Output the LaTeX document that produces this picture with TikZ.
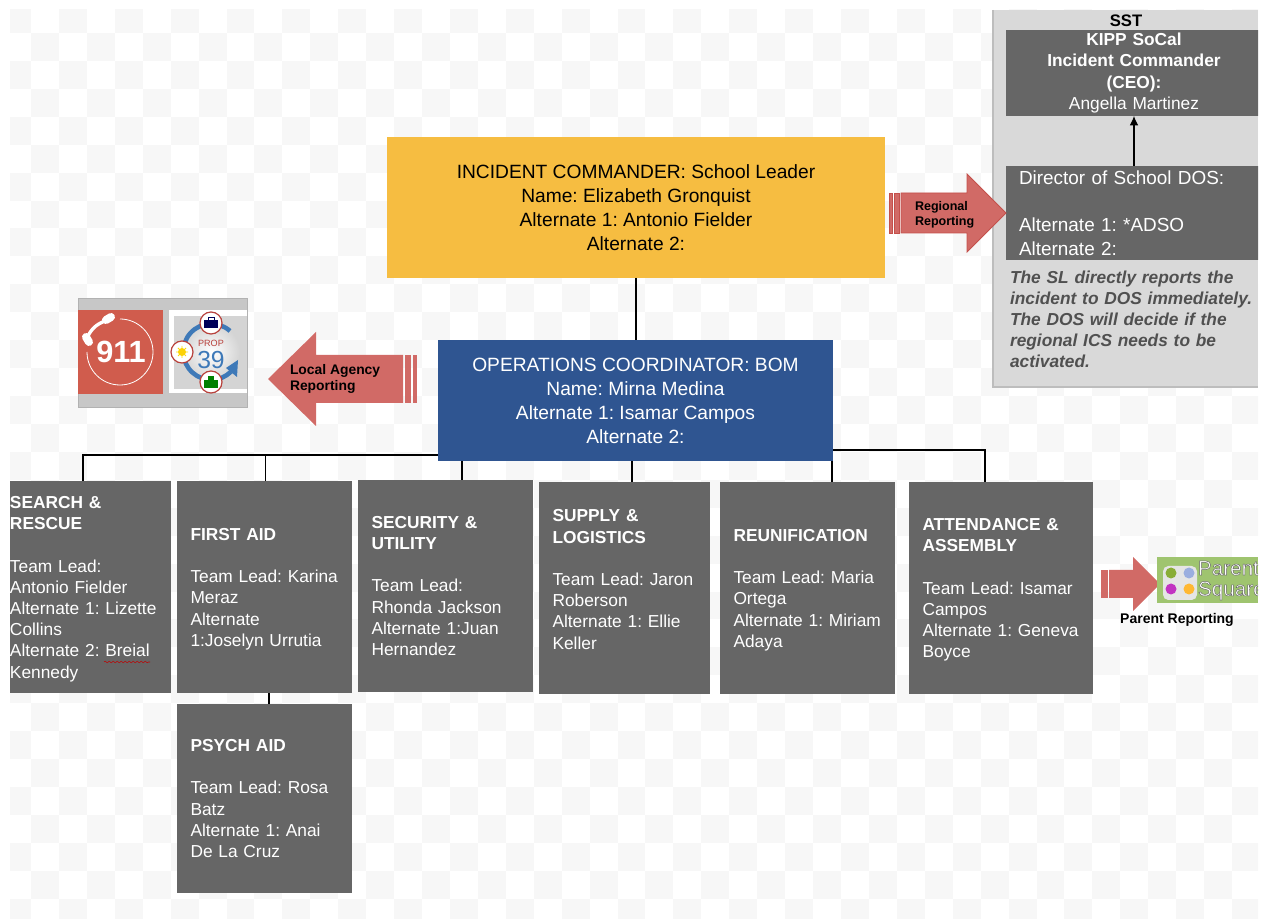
\documentclass[tikz,border=0pt]{standalone}
\usepackage{fontspec}
\setmainfont{Liberation Sans}
\usetikzlibrary{arrows.meta,decorations.pathmorphing}
\frenchspacing

\definecolor{boxgray}{HTML}{666666}
\definecolor{sstgray}{HTML}{D9D9D9}
\definecolor{sstedge}{HTML}{BDBDBD}
\definecolor{notegray}{HTML}{505050}
\definecolor{leaderyellow}{HTML}{F6BD41}
\definecolor{coordblue}{HTML}{2F5591}
\definecolor{arrowred}{HTML}{D16A66}
\definecolor{arrowedge}{HTML}{C4504B}
\definecolor{tilegray}{HTML}{F7F7F7}
\definecolor{callred}{HTML}{D05C4D}
\definecolor{propblue}{HTML}{3E79B8}
\definecolor{propred}{HTML}{B8413C}
\definecolor{parentgreen}{HTML}{9FC46F}

\tikzset{
	every node/.style = {inner sep = 0pt, outer sep = 0pt},
	sized/.style 2 args = {anchor = north west, minimum width = #1*0.75pt, minimum height = #2*0.75pt},
	teamfont/.style = {font = \fontsize{13}{15.9}\selectfont},
	lowered/.style = {execute at begin node = {\rule{0pt}{12.3pt}}},
	teambox/.style 2 args = {sized = {#1}{#2}, fill = boxgray, text = white, teamfont, align = left, text width = #1*0.75pt - 20.25pt},
	leadbox/.style 2 args = {sized = {#1}{#2}, font = \fontsize{14.4}{18}\selectfont, align = center},
	busline/.style = {line width = 2.2pt, black},
	thinbus/.style = {line width = 0.7pt, black},
	blockarrow/.style = {fill = arrowred, draw = arrowedge, line width = 0.6pt},
	arrowtext/.style 2 args = {anchor = west, align = left, font = \fontsize{#1}{#2}\selectfont\bfseries, text = black},
}

\begin{document}
\begin{tikzpicture}[x = 0.75pt, y = -0.75pt]
	\useasboundingbox (0,0) rectangle (1265,919);
	% backdrop tiles
	\begin{scope}
		\clip (10,10) rectangle (1258,919);
		\foreach \i in {0,...,45}
			\foreach \j in {0,...,33} {
				\pgfmathparse{int(mod(\i+\j,2))}
				\ifnum\pgfmathresult=0
					\fill[tilegray] ({3.1+27.93*\i},{5+27.93*\j}) rectangle ++(27.93,27.93);
				\fi
			}
	\end{scope}

	% SST panel
	\node[sized = {265}{377}, fill = sstgray] (sst) at (993,10) {};
	\draw[sstedge, line width = 0.9pt] (sst.north west) -- (sst.south west) -- (sst.south east);
	\node[font = \fontsize{12.5}{15}\selectfont\bfseries] (ssttitle) at (1126,20.5) {SST};
	\begin{scope}
		\clip (993,10) rectangle (1258,387);
		\node[sized = {256}{86}, fill = boxgray, text = white, align = center, font = \fontsize{13}{15.9}\selectfont, text width = 189pt] (kipp) at (1006,30) {\textbf{KIPP SoCal}\\\textbf{Incident Commander}\\\textbf{(CEO):}\\Angella Martinez};
		\node[sized = {256}{94}, fill = boxgray, text = white, align = left, font = \fontsize{14.2}{17.7}\selectfont, text width = 172.5pt] (dos) at (1006,166) {Director of School DOS:\\~\\Alternate 1: *ADSO\\Alternate 2:};
	\end{scope}
	\node[anchor = north west, align = left, text = notegray, text width = 190pt, font = \fontsize{13}{15.8}\selectfont\bfseries\itshape] (sstnote) at (1010,271) {The SL directly reports the\\incident to DOS immediately.\\The DOS will decide if the\\regional ICS needs to be\\activated.};
	\draw[-{Latex[length = 7pt, width = 6.5pt]}, line width = 0.8pt] (dos.north) -- (kipp.south);

	% command boxes
	\node[leadbox = {498}{141}, fill = leaderyellow] (commander) at (387,137) {INCIDENT COMMANDER: School Leader\\Name: Elizabeth Gronquist\\Alternate 1: Antonio Fielder\\Alternate 2:};
	\node[leadbox = {395}{121}, fill = coordblue, text = white] (operations) at (438,340) {OPERATIONS COORDINATOR: BOM\\Name: Mirna Medina\\Alternate 1: Isamar Campos\\Alternate 2:};

	% team boxes
	\node[sized = {161}{212}, fill = boxgray, text = white, teamfont, align = left, text width = 120.75pt, lowered] (search) at (10,481) {\textbf{SEARCH \&}\\\textbf{RESCUE}\\~\\Team Lead:\\Antonio Fielder\\Alternate 1: Lizette\\Collins\\Alternate 2: Breial\\Kennedy};
	\node[teambox = {175}{212}, lowered] (firstaid) at (177,481) {\textbf{FIRST AID}\\~\\Team Lead: Karina\\Meraz\\Alternate\\1:Joselyn Urrutia};
	\node[teambox = {175}{212}] (security) at (358,480) {\textbf{SECURITY \&}\\\textbf{UTILITY}\\~\\Team Lead:\\Rhonda Jackson\\Alternate 1:Juan\\Hernandez};
	\node[teambox = {171}{212}, lowered] (supply) at (539,482) {\textbf{SUPPLY \&}\\\textbf{LOGISTICS}\\~\\Team Lead: Jaron\\Roberson\\Alternate 1: Ellie\\Keller\\~};
	\node[teambox = {175}{212}, lowered] (reunion) at (720,482) {\textbf{REUNIFICATION}\\~\\Team Lead: Maria\\Ortega\\Alternate 1: Miriam\\Adaya};
	\node[teambox = {184}{212}, lowered] (attendance) at (909,482) {\textbf{ATTENDANCE \&}\\\textbf{ASSEMBLY}\\~\\Team Lead: Isamar\\Campos\\Alternate 1: Geneva\\Boyce};
	\node[teambox = {175}{189}] (psych) at (177,704) {\textbf{PSYCH AID}\\~\\Team Lead: Rosa\\Batz\\Alternate 1: Anai\\De La Cruz};
	\draw[red!75!black, line width = 0.4pt, decorate, decoration = {snake, amplitude = 0.6pt, segment length = 3pt}] (104,662) -- (150,662);

	% connectors
	\coordinate (busleft) at (438,455);
	\coordinate (searchdrop) at (83,455);
	\coordinate (aiddrop) at (265,455);
	\coordinate (secdrop) at (462,461);
	\coordinate (supplydrop) at (632,461);
	\coordinate (reundrop) at (832,461);
	\coordinate (busright) at (833,450);
	\coordinate (attdrop) at (985,450);
	\coordinate (psychdrop) at (269,704);
	\draw[busline] (commander.south) -- (commander.south |- operations.north);
	\draw[busline] (busleft) -- (searchdrop) -- (searchdrop |- search.north);
	\draw[thinbus] (aiddrop) -- (aiddrop |- firstaid.north);
	\draw[busline, line width = 1.6pt] (secdrop) -- (secdrop |- security.north);
	\draw[busline, line width = 1.6pt] (supplydrop) -- (supplydrop |- supply.north);
	\draw[busline, line width = 1.6pt] (reundrop) -- (reundrop |- reunion.north);
	\draw[busline, line width = 1.6pt] (busright) -- (attdrop) -- (attdrop |- attendance.north);
	\draw[busline] (psychdrop) -- (psychdrop |- firstaid.south);

	% regional reporting arrow
	\draw[blockarrow] (901,193) -- (967,193) -- (967,174) -- (1006,213) -- (967,252) -- (967,233) -- (901,233) -- cycle;
	\fill[arrowred, draw = arrowedge, line width = 0.5pt] (889,193) rectangle (892,233);
	\fill[arrowred, draw = arrowedge, line width = 0.5pt] (894,193) rectangle (899,233);
	\node[arrowtext = {9.4}{11.3}] (regional) at (915,214.5) {Regional\\Reporting};

	% local agency arrow
	\fill[arrowred] (403,355) -- (316,355) -- (316,332) -- (268,379) -- (316,426) -- (316,403) -- (403,403) -- cycle;
	\fill[arrowred] (405,355) rectangle (411,403);
	\fill[arrowred] (413,355) rectangle (417,403);
	\node[arrowtext = {10.4}{12}] (localagency) at (290,379) {Local Agency\\Reporting};

	% agency picture
	\node[sized = {169}{109}, fill = black!22, draw = black!30, line width = 0.6pt] (agency) at (78,298) {};
	\node[sized = {85}{84}, fill = callred] (callbox) at (78,310) {};
	\node[sized = {78}{83}, fill = white] (propframe) at (169,310.5) {};
	\node[sized = {73}{73}, fill = black!17] (propbox) at (174,316) {};
	\draw[white, line width = 0.6pt] (120,319) arc (-90:180:33);
	\draw[white, line width = 2.5pt, line cap = round] (88,336) .. controls (92,328) and (98,323) .. (108,320);
	\draw[white, line width = 6pt, line cap = round] (86,337) -- (89,342);
	\draw[white, line width = 6pt, line cap = round] (106,320) -- (111,317);
	\node[text = white, font = \fontsize{23}{25}\selectfont\bfseries] (calltext) at (121,352) {911};
	\shade[inner color = white, outer color = black!17] (211,352) circle (29);
	\draw[propblue, line width = 3.4pt] (230,331) arc (-48:-315:28);
	\fill[propblue] (238,360) -- (226,368) -- (237,377) -- cycle;
	\node[text = propred, font = \fontsize{6.8}{7}\selectfont] (proptext) at (211,343) {PROP};
	\node[text = propblue, font = \fontsize{18.5}{20}\selectfont] (propnumber) at (211,360) {39};
	\draw[fill = white, draw = propred, line width = 0.9pt] (211,323) circle (11) (182,352) circle (11) (211,382) circle (11);
	\fill[blue!35!black] (204,320) rectangle (218,328);
	\draw[blue!35!black, line width = 0.6pt] (208,320) -- (208,317.5) -- (214,317.5) -- (214,320);
	\draw[yellow!80!orange, line width = 0.6pt] (176,352) -- (188,352) (182,346) -- (182,358) (178,348) -- (186,356) (178,356) -- (186,348);
	\fill[yellow!70!orange] (182,352) circle (4);
	\fill[green!50!black] (204,380) rectangle (218,388);
	\fill[green!50!black] (208,376) rectangle (214,380);

	% parent reporting
	\fill[arrowred] (1109,570) -- (1133,570) -- (1133,557) -- (1160,584) -- (1133,611) -- (1133,598) -- (1109,598) -- cycle;
	\fill[arrowred] (1101,570) rectangle (1108,598);
	\node[sized = {101}{46}, fill = parentgreen] (parentbox) at (1157,557) {};
	\fill[black!10, rounded corners = 4pt] (1163,566) rectangle (1197,600);
	\fill[olive!60!green!80!white] (1171,573) circle (5.5);
	\fill[cyan!40!blue!40] (1189,573) circle (5.5);
	\fill[violet!60!magenta!80!white] (1171,589) circle (5.5);
	\fill[orange!70!yellow!80!white] (1189,589) circle (5.5);
	\begin{scope}
		\clip (1157,557) rectangle (1258,603);
		\node[anchor = west, align = left, text = white, font = \fontsize{15.5}{15.5}\selectfont] (parentname) at (1198,580.5) {\special{pdf:code 2 Tr 0.35 w 0.4 0.4 0.4 RG}Parent\\Square\special{pdf:code 0 Tr}};
	\end{scope}
	\node[font = \fontsize{10.5}{12}\selectfont\bfseries] (parentlabel) at (1177,619.5) {Parent Reporting};
\end{tikzpicture}
\end{document}
